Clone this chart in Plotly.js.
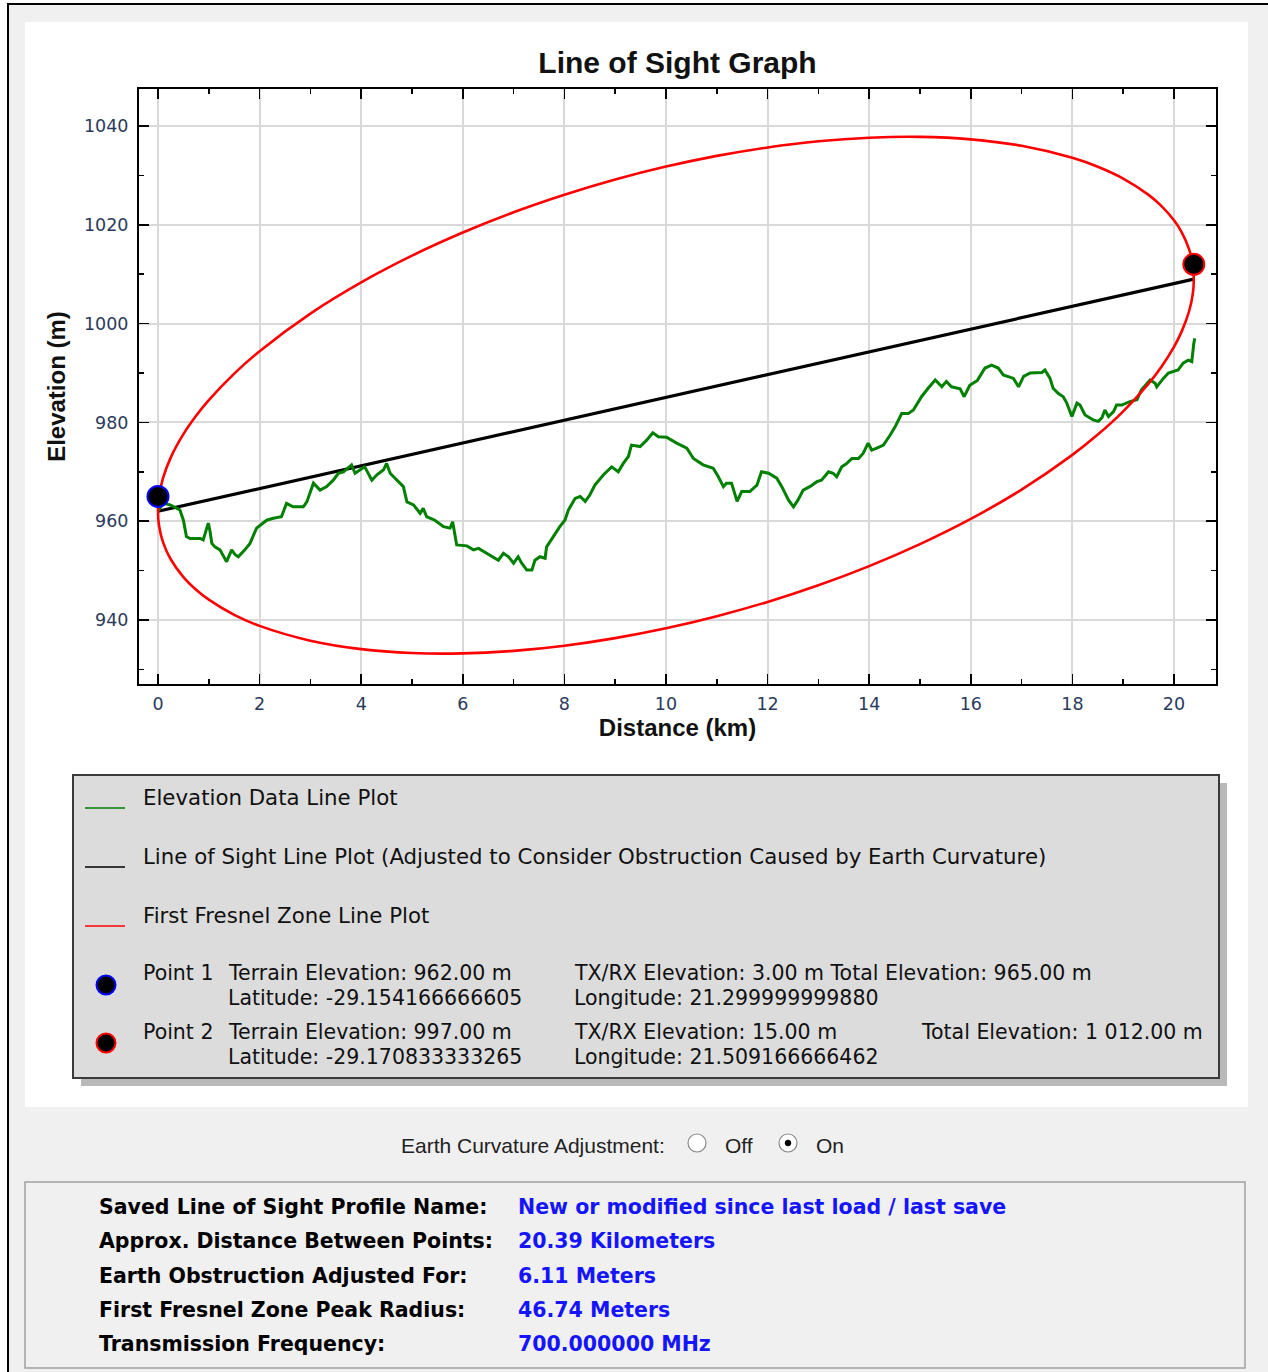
<!DOCTYPE html>
<html><head><meta charset="utf-8">
<script src="https://cdn.plot.ly/plotly-3.0.1.min.js"></script>
<style>html,body{margin:0;padding:0;background:#fff;} #chart{width:1268px;height:1372px;}</style>
</head><body><div id="chart"></div>
<script>
// ---------- data ----------
const elevDist = [0.00,0.10,0.24,0.43,0.50,0.56,0.63,0.83,0.89,0.96,0.99,1.02,1.06,1.12,1.22,1.35,1.45,1.52,1.58,1.71,1.81,1.94,2.14,2.27,2.43,2.53,2.66,2.86,2.93,3.06,3.19,3.32,3.45,3.55,3.65,3.81,3.88,3.98,4.07,4.21,4.31,4.44,4.50,4.57,4.70,4.83,4.90,5.03,5.16,5.22,5.29,5.45,5.62,5.75,5.80,5.83,5.88,6.08,6.21,6.31,6.47,6.70,6.80,6.90,7.00,7.09,7.16,7.26,7.36,7.42,7.52,7.62,7.65,7.78,7.91,8.01,8.08,8.21,8.31,8.41,8.50,8.60,8.77,8.93,9.06,9.16,9.26,9.32,9.49,9.62,9.74,9.85,10.01,10.21,10.41,10.54,10.73,10.93,11.03,11.13,11.19,11.29,11.40,11.49,11.65,11.79,11.88,12.02,12.18,12.28,12.41,12.51,12.60,12.70,12.83,12.97,13.06,13.20,13.29,13.36,13.46,13.56,13.66,13.79,13.88,13.98,14.05,14.15,14.28,14.41,14.51,14.64,14.77,14.87,15.03,15.16,15.30,15.43,15.52,15.62,15.79,15.87,15.98,16.13,16.28,16.41,16.54,16.64,16.84,16.94,17.04,17.17,17.40,17.46,17.56,17.62,17.72,17.82,17.89,17.99,18.09,18.15,18.25,18.41,18.51,18.58,18.64,18.71,18.81,18.87,18.97,19.13,19.27,19.36,19.53,19.63,19.66,19.79,19.89,20.08,20.18,20.28,20.35,20.39,20.41];
const elevM = [962.0,963.6,963.3,962.3,960.2,956.9,956.5,956.5,956.2,958.6,959.6,958.2,955.5,954.8,954.2,951.8,954.2,953.2,952.8,954.2,955.5,958.6,960.2,960.6,960.9,963.6,962.9,962.9,963.9,967.7,966.3,967.0,968.3,969.7,970.0,971.4,969.7,970.4,971.0,968.3,969.4,970.4,971.7,969.7,968.3,967.0,963.9,963.3,961.6,962.6,960.9,960.2,958.9,958.6,959.9,958.2,955.2,955.0,954.2,954.5,953.5,952.1,953.5,952.8,951.5,952.8,951.5,950.1,950.1,952.1,952.8,952.5,954.8,956.9,958.9,960.2,962.3,964.6,965.0,964.0,965.3,967.3,969.4,971.0,970.0,971.7,973.1,975.4,975.1,976.4,977.9,977.1,977.0,975.8,974.8,972.7,971.4,970.7,969.0,967.0,967.7,967.7,964.0,966.0,966.0,967.3,970.0,969.7,968.7,967.0,964.3,962.9,964.3,966.3,967.0,968.0,968.3,970.0,969.7,969.0,971.0,971.7,972.7,972.7,973.7,975.8,974.4,974.8,975.4,977.4,979.1,981.8,981.8,982.5,985.2,986.9,988.6,987.2,988.3,987.2,986.8,985.2,987.5,988.5,991.0,991.6,991.0,989.6,988.9,987.2,989.3,990.0,990.1,990.6,988.9,986.9,985.9,985.2,983.9,981.2,983.9,983.5,981.5,980.5,980.2,980.9,982.5,981.2,982.2,983.5,983.5,984.2,984.6,986.6,988.6,987.9,987.2,988.9,990.0,990.6,992.0,992.6,992.3,996.0,997.0];

const losDist = [0, 20.39];
const losM = [962, 1009];

const fresnelDist  = [0,0.02,0.1,0.25,0.5,0.75,1,1.5,2,3,4,5,6,7,8,9,10,11,12,13,14,15,16,17,18,18.5,19,19.5,19.75,20,20.15,20.3,20.37,20.39];
const fresnelUpper = [962.0,964.98,968.76,972.87,977.61,981.33,984.50,989.87,994.41,1002.03,1008.34,1013.75,1018.43,1022.53,1026.08,1029.17,1031.78,1033.95,1035.66,1036.91,1037.63,1037.80,1037.30,1035.99,1033.56,1031.75,1029.36,1026.05,1023.82,1020.91,1018.53,1014.98,1011.88,1009.0];
const fresnelLower = [962.0,959.12,955.70,952.29,948.69,946.13,944.12,941.05,938.81,935.81,934.10,933.31,933.23,933.75,934.80,936.33,938.32,940.77,943.66,947.03,950.91,955.36,960.46,966.39,973.42,977.53,982.24,987.85,991.22,995.29,998.37,1002.60,1006.02,1009.0];

const point1 = {dist: 0, elev: 965};
const point2 = {dist: 20.39, elev: 1012};

const legendLabels = [
  "Elevation Data Line Plot",
  "Line of Sight Line Plot (Adjusted to Consider Obstruction Caused by Earth Curvature)",
  "First Fresnel Zone Line Plot"
];
const infoLabels = ["Saved Line of Sight Profile Name:","Approx. Distance Between Points:","Earth Obstruction Adjusted For:","First Fresnel Zone Peak Radius:","Transmission Frequency:"];
const infoValues = ["New or modified since last load / last save","20.39 Kilometers","6.11 Meters","46.74 Meters","700.000000 MHz"];

// ---------- pixel helpers (plot area) ----------
const L = 139, R = 1216, T = 89, B = 684;
const px = x => (x - L) / (R - L);
const py = y => (B - y) / (B - T);

const shapes = [];
function rect(x0, y0, x1, y1, fill, lc, lw) {
  shapes.push({type:'rect', xref:'paper', yref:'paper', layer:'below',
    x0:px(x0), x1:px(x1), y0:py(y0), y1:py(y1),
    fillcolor:fill, line:{color:lc || 'rgba(0,0,0,0)', width:lw || 0}});
}
function circ(cx, cy, r, fill, lc, lw) {
  shapes.push({type:'circle', xref:'paper', yref:'paper', layer:'above',
    x0:px(cx - r), x1:px(cx + r), y0:py(cy + r), y1:py(cy - r),
    fillcolor:fill, line:{color:lc, width:lw}});
}
function seg(x0, y0, x1, y1, color, w) {
  shapes.push({type:'line', xref:'paper', yref:'paper', layer:'above',
    x0:px(x0), x1:px(x1), y0:py(y0), y1:py(y1), line:{color:color, width:w}});
}
const annotations = [];
const DV = 'DejaVu Sans, Verdana, sans-serif';
const LS = 'Liberation Sans, Arial, sans-serif';
function txt(text, x, y, size, color, family, anchor) {
  annotations.push({text:text, xref:'paper', yref:'paper', x:px(x), y:py(y),
    xanchor:anchor || 'left', yanchor:'middle', showarrow:false, borderpad:0,
    font:{family:family || DV, size:size, color:color || '#111'}});
}

// backgrounds
rect(8, 4, 1300, 1400, '#f0f0f0', '#000', 2);
rect(25, 22, 1248, 1107, '#ffffff');
rect(81, 783, 1227, 1086, '#b9b9b9');
rect(73, 775, 1219, 1078, '#dcdcdc', '#3a3a3a', 2);
rect(25, 1182, 1245, 1368, '#f0f0f0', '#a0a0a0', 1.5);

// legend samples
const legColors = ['#008000', '#000000', '#ff0000'];
const legY = [797, 856, 915];
const LF = 20.5;
legendLabels.forEach((s, i) => {
  seg(85, legY[i] + 11, 125, legY[i] + 11, legColors[i], 1.5);
  txt(s, 142, legY[i], 21.3, '#111');
});
circ(106, 985, 9.5, '#000', '#0000ff', 2);
circ(106, 1043, 9.5, '#000', '#ff0000', 2);

txt('Point 1', 142, 973, LF); txt('Terrain Elevation: 962.00 m', 227, 973, LF);
txt('Latitude: -29.154166666605', 227, 998, LF);
txt('TX/RX Elevation: 3.00 m Total Elevation: 965.00 m', 573, 973, LF);
txt('Longitude: 21.299999999880', 573, 998, LF);
txt('Point 2', 142, 1032, LF); txt('Terrain Elevation: 997.00 m', 227, 1032, LF);
txt('Latitude: -29.170833333265', 227, 1057, LF);
txt('TX/RX Elevation: 15.00 m', 573, 1032, LF);
txt('Total Elevation: 1 012.00 m', 920, 1032, LF);
txt('Longitude: 21.509166666462', 573, 1057, LF);

// curvature adjustment radio
txt('Earth Curvature Adjustment:', 400, 1145, 21, '#222', LS);
circ(697, 1143, 9, '#ffffff', '#8a8a8a', 1.2);
txt('Off', 724, 1145, 21, '#222', LS);
circ(788, 1143, 9, '#ffffff', '#8a8a8a', 1.2);
circ(788, 1143, 3, '#000', '#000', 0.5);
txt('On', 815, 1145, 21, '#222', LS);

// info box
const infoY = [1207, 1241, 1276, 1310, 1344];
infoLabels.forEach((s, i) => {
  txt('<b>' + s + '</b>', 98, infoY[i], 20.5, '#000');
  txt('<b>' + infoValues[i] + '</b>', 517, infoY[i], 20.5, '#1414ff');
});

// ---------- traces ----------
const ringX = fresnelDist.concat(fresnelDist.slice(0, -1).reverse());
const ringY = fresnelUpper.concat(fresnelLower.slice(0, -1).reverse());

const traces = [
  {x: losDist, y: losM, mode:'lines', line:{color:'#000', width:3.2}, hoverinfo:'skip'},
  {x: elevDist, y: elevM, mode:'lines', line:{color:'#008000', width:3}, hoverinfo:'skip'},
  {x: ringX, y: ringY, mode:'lines', line:{color:'#ff0000', width:2.6, shape:'spline', smoothing:0.8}, hoverinfo:'skip'},
  {x: [point1.dist], y: [point1.elev], mode:'markers', marker:{size:21, color:'#000', line:{color:'#0000ff', width:2}}},
  {x: [point2.dist], y: [point2.elev], mode:'markers', marker:{size:21, color:'#000', line:{color:'#ff0000', width:2}}}
];

const tickFont = {family:DV, size:17.5, color:'#2b3a5c'};
const axTitleFont = {family:LS, size:24, color:'#111'};
const common = {
  ticks:'inside', ticklen:10, tickwidth:1.5, tickcolor:'#000',
  showline:true, linewidth:2, linecolor:'#000', mirror:'ticks',
  showgrid:true, gridcolor:'#d9d9d9', gridwidth:2, zeroline:false,
  tickfont:tickFont
};

const layout = {
  width:1268, height:1372,
  margin:{l:L, r:1268 - R, t:T, b:1372 - B, pad:0},
  paper_bgcolor:'#ffffff', plot_bgcolor:'#ffffff',
  showlegend:false,
  title:{text:'<b>Line of Sight Graph</b>', x:0.5, xref:'paper', xanchor:'center',
         y:1 - 62/1372, yref:'container', yanchor:'middle',
         font:{family:LS, size:30, color:'#111'}},
  xaxis: Object.assign({}, common, {
    range:[-0.374, 20.827], tick0:0, dtick:2, ticklabelstandoff:3,
    minor:{dtick:1, ticks:'inside', ticklen:5, tickwidth:1.5, tickcolor:'#000', showgrid:false},
    title:{text:'<b>Distance (km)</b>', font:axTitleFont, standoff:6}
  }),
  yaxis: Object.assign({}, common, {
    range:[927.04, 1047.49], tick0:0, dtick:20, ticklabelstandoff:5,
    minor:{dtick:10, ticks:'inside', ticklen:5, tickwidth:1.5, tickcolor:'#000', showgrid:false},
    title:{text:'<b>Elevation (m)</b>', font:axTitleFont, standoff:12}
  }),
  shapes: shapes,
  annotations: annotations
};

Plotly.newPlot('chart', traces, layout, {displayModeBar:false, staticPlot:true});
</script></body></html>
